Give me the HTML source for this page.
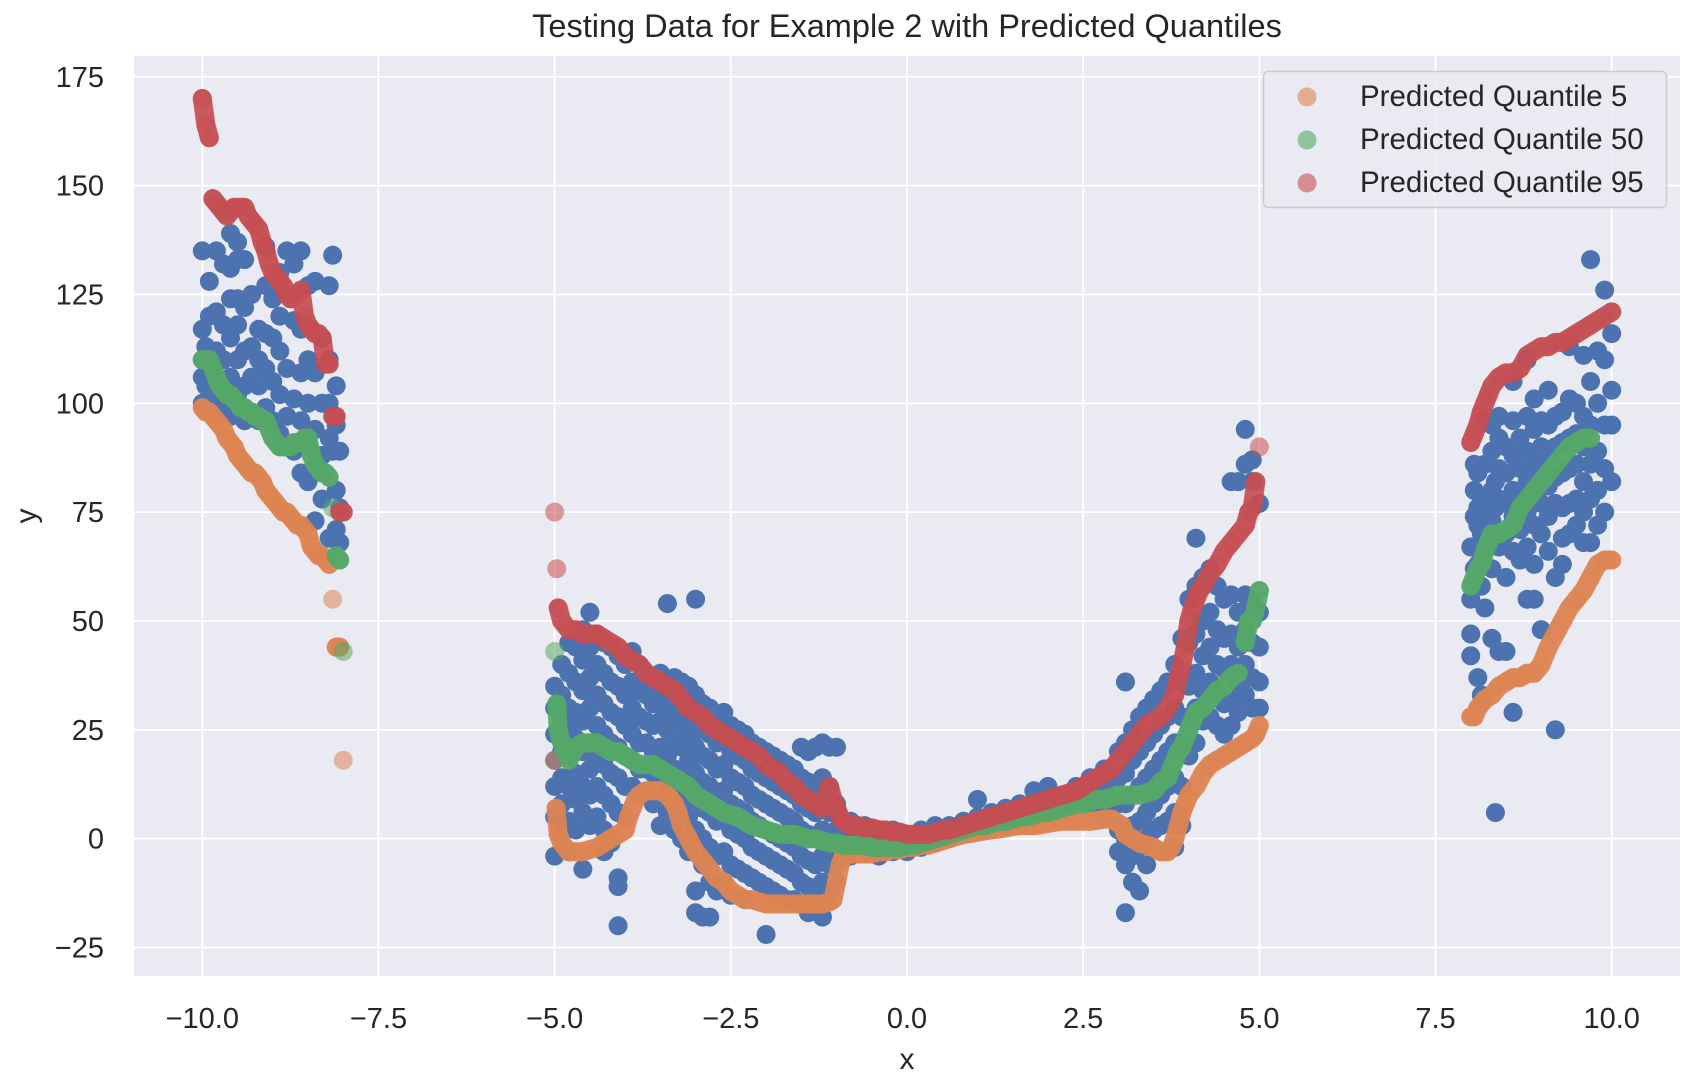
<!DOCTYPE html>
<html><head><meta charset="utf-8"><style>
html,body{margin:0;padding:0;background:#fff;}
svg{display:block;font-family:"Liberation Sans",Arial,sans-serif;}
</style></head><body>
<svg id="chart" width="1696" height="1084" viewBox="0 0 1696 1084">
<rect x="134" y="56" width="1546" height="920" fill="#eaeaf2"/>
<g id="grid"></g>
<g id="ticks"></g>
<g id="marks"></g>
<text x="907" y="37" text-anchor="middle" font-size="32.5" fill="#262626">Testing Data for Example 2 with Predicted Quantiles</text>
<text x="907" y="1069" text-anchor="middle" font-size="30" fill="#262626">x</text>
<text x="36" y="516" text-anchor="middle" font-size="30" fill="#262626" transform="rotate(-90 36 516)">y</text>
<g>
<rect x="1263.5" y="71.5" width="403" height="136" rx="5" fill="#eaeaf2" fill-opacity="0.85" stroke="#cccccc" stroke-width="1.5"/>
<circle cx="1307" cy="97" r="9.5" fill="#dd8452" fill-opacity="0.6"/>
<text x="1360" y="106" font-size="29.5" fill="#262626">Predicted Quantile 5</text>
<circle cx="1307" cy="140" r="9.5" fill="#55a868" fill-opacity="0.6"/>
<text x="1360" y="149" font-size="29.5" fill="#262626">Predicted Quantile 50</text>
<circle cx="1307" cy="183" r="9.5" fill="#c44e52" fill-opacity="0.6"/>
<text x="1360" y="192" font-size="29.5" fill="#262626">Predicted Quantile 95</text>
</g>
</svg>
<script>
const xTicks = [-10, -7.5, -5, -2.5, 0, 2.5, 5, 7.5, 10];
const xTickLabels = ["\u221210.0","\u22127.5","\u22125.0","\u22122.5","0.0","2.5","5.0","7.5","10.0"];
const yTicks = [-25, 0, 25, 50, 75, 100, 125, 150, 175];
const yTickLabels = ["\u221225","0","25","50","75","100","125","150","175"];

// test data: each row = [x, y values observed at that x...]
const blueCols = [
[-10,135,117,110,106,100],[-9.95,113,104],[-9.9,128,120,108,101],[-9.8,135,121,112,105,98],[-9.7,132,118,110,101],
[-9.6,139,131,124,115,106,97],[-9.5,137,133,124,118,110,102],[-9.4,133,122,112,104,96],[-9.3,125,113,106,98],[-9.2,117,110,104,96],
[-9.1,136,127,116,108,99],[-9.0,124,115,105,96],[-8.9,130,120,112,102,93],[-8.8,135,125,108,97,90],[-8.7,132,119,101,89],
[-8.6,135,117,107,96,84],[-8.5,127,110,100,90,82],[-8.4,128,107,94,85,73],[-8.3,115,100,88,78],[-8.2,127,110,100,92,69],
[-8.15,134,89],[-8.1,104,95,80,71],[-8.05,89,76,68],
[-5.0,35,30,24,18,12,5,-4],[-4.9,40,33,27,20,14,8,1],[-4.8,45,38,30,25,19,12,4,-3],[-4.7,44,36,29,23,15,9,2],
[-4.6,48,41,34,27,20,12,6,-7],[-4.5,52,44,37,30,22,16,10,3],[-4.4,47,40,33,26,19,12,5],[-4.3,45,38,31,24,17,10,2,-3],
[-4.2,44,36,29,22,15,8,-1],[-4.1,42,35,28,21,14,6,-9,-11,-20],[-4.0,40,33,26,19,12,5],[-3.9,43,36,30,24,18,12],
[-3.8,40,34,28,22,16,10],[-3.7,38,33,27,22,16,10],[-3.6,36,31,26,20,15,8],[-3.5,38,32,27,21,16,9,3],
[-3.4,54,36,30,25,19,13,6],[-3.3,37,32,27,22,16,10,2],[-3.2,36,31,26,21,15,8,0],[-3.1,35,29,24,18,12,5,-3],
[-3.0,55,33,27,21,15,9,2,-12,-17],[-2.9,31,25,19,13,7,0,-6,-18],[-2.8,30,24,18,12,6,-2,-10,-18],[-2.7,28,22,16,10,4,-4,-12],
[-2.6,29,23,17,11,5,-3,-10],[-2.5,26,20,14,8,2,-6,-13],[-2.4,25,19,13,7,1,-7],[-2.3,24,18,12,6,0,-8,-14],
[-2.2,22,16,10,4,-2,-9],[-2.1,21,15,9,3,-3,-10],[-2.0,20,14,8,2,-4,-11,-22],[-1.9,19,13,7,1,-5,-12],
[-1.8,18,12,6,0,-6,-13],[-1.7,17,11,5,-1,-7,-14],[-1.6,16,10,4,-2,-8,-14],[-1.5,21,14,8,2,-4,-10,-15],
[-1.4,20,13,7,1,-5,-11,-17],[-1.3,21,12,6,0,-6,-12],[-1.2,22,14,8,2,-4,-10,-18],[-1.1,21,12,6,0,-6,-13],[-1.0,21,8,2,-5,-10],
[-0.8,4,1,-2,-4],[-0.6,3,0,-3],[-0.4,2,-1,-4],[-0.2,2,-1,-3],[0.0,1,-2,-3],[0.2,2,0,-2],[0.4,3,1,-1],[0.6,3,1,0],
[0.8,4,2,1],[1.0,5,3,2,9],[1.2,6,4,3],[1.4,7,5,3],[1.6,8,6,4],[1.8,11,7,5],[2.0,12,8,6],[2.2,10,8,6],[2.4,12,9,7],
[2.6,14,10,7],[2.8,16,12,8,5],[3.0,20,14,8,2,-3],[3.1,36,22,15,8,0,-6,-17],[3.2,25,18,10,3,-4,-10],[3.3,28,20,12,4,-2,-12],
[3.4,30,22,14,6,0,-6],[3.5,32,24,16,8,2],[3.6,34,26,18,10,3],[3.7,36,28,20,12,4],[3.8,40,30,22,14,6,-2],[3.9,46,36,28,20,12,3],
[4.0,55,45,35,27,19],[4.1,69,58,47,38,30,22],[4.2,60,50,42,34,27],[4.3,62,52,44,36,28],[4.4,58,48,40,33,26],[4.5,55,46,39,31,24],
[4.6,82,56,47,40,32,26],[4.7,82,52,44,36,29],[4.8,94,86,56,48,40,33],[4.9,87,82,54,45,37,30],[5.0,77,52,44,36,30],
[8.0,67,55,47,42],[8.05,86,80,74,62],[8.1,84,76,72,63,37],[8.15,78,70,65,58,33],[8.2,96,86,74,68,53],[8.3,95,89,80,73,62,46],
[8.35,82,76,70,6],[8.4,97,92,85,78,67,43],[8.5,90,84,77,70,60,43],[8.6,105,96,88,80,74,66,29],[8.7,92,85,78,71,64],
[8.8,110,97,89,82,75,67,55],[8.9,101,94,86,79,72,63,55],[9.0,96,90,84,77,70,48],[9.1,103,95,88,81,74,66],[9.2,97,90,83,77,60,25],
[9.3,98,91,84,76,69,63],[9.4,113,101,92,85,77,70],[9.5,100,93,86,78,72],[9.6,111,97,90,82,75,68],[9.7,133,105,95,86,78,68],
[9.8,112,100,89,80,72],[9.9,126,110,95,85,75],[10.0,116,103,95,82]
];

const q95X = [-10,-9.95,-9.9,-9.85,-9.8,-9.75,-9.7,-9.65,-9.6,-9.55,-9.5,-9.45,-9.4,-9.35,-9.3,-9.25,-9.2,-9.15,-9.1,-9.05,-9.0,-8.95,-8.9,-8.85,-8.8,-8.75,-8.7,-8.65,-8.6,-8.55,-8.5,-8.45,-8.4,-8.35,-8.3,-8.25,-8.2,-8.15,-8.1,-8.05,-8.0,
-5,-4.97,-4.95,-4.9,-4.8,-4.7,-4.6,-4.5,-4.4,-4.3,-4.2,-4.1,-4.0,-3.9,-3.8,-3.7,-3.6,-3.5,-3.4,-3.3,-3.2,-3.1,-3.0,-2.9,-2.8,-2.7,-2.6,-2.5,-2.4,-2.3,-2.2,-2.1,-2.0,-1.9,-1.8,-1.7,-1.6,-1.5,-1.4,-1.3,-1.2,-1.1,-1.05,-1.0,-0.95,-0.9,-0.8,-0.7,-0.6,-0.5,-0.4,-0.3,-0.2,-0.1,0,0.1,0.2,0.3,0.4,0.5,0.6,0.7,0.8,0.9,1.0,1.1,1.2,1.3,1.4,1.5,1.6,1.7,1.8,1.9,2.0,2.1,2.2,2.3,2.4,2.5,2.6,2.7,2.8,2.9,3.0,3.1,3.2,3.3,3.4,3.5,3.6,3.7,3.8,3.85,3.9,3.95,4.0,4.05,4.1,4.15,4.2,4.3,4.4,4.5,4.6,4.7,4.8,4.85,4.9,4.95,5.0,
8.0,8.05,8.1,8.15,8.2,8.25,8.3,8.4,8.5,8.6,8.7,8.8,8.9,9.0,9.1,9.2,9.3,9.4,9.5,9.6,9.7,9.8,9.9,10.0];
const q95Y = [170,164,161,147,146,145,144,143,144,145,145,145,145,143,142,141,140,137,135,132,130,129,128,127,125,124,124,125,126,120,118,117,116,116,115,109,109,97,97,75,75,
75,62,53,50,48,48,47,47,47,46,45,44,42,41,40,38,37,36,35,34,32,30,29,28,26,25,24,23,22,21,20,19,17,16,15,13,12,10,9,8,7,12,9,7,5,4,3,3,2.5,2.5,2,2,1.5,1.5,1,1,1,1,1.5,2,2,2.5,3,3.5,4,4.5,5,5.5,6,6.5,7,7.5,8,8.5,9,9.5,10,10.5,11,12,13,14,15,16,18,20,22,24,26,27,28,30,33,37,40,44,50,53,55,57,58,61,63,66,68,70,72,75,76,82,90,
91,93,95,98,100,102,104,106,107,107,108,111,112,113,113,114,114,115,116,117,118,119,120,121];

const q50X = [-10,-9.95,-9.9,-9.85,-9.8,-9.75,-9.7,-9.65,-9.6,-9.55,-9.5,-9.45,-9.4,-9.35,-9.3,-9.25,-9.2,-9.15,-9.1,-9.05,-9.0,-8.95,-8.9,-8.85,-8.8,-8.75,-8.7,-8.65,-8.6,-8.55,-8.5,-8.45,-8.4,-8.35,-8.3,-8.25,-8.2,-8.15,-8.1,-8.05,-8.0,
-5,-4.97,-4.95,-4.9,-4.85,-4.8,-4.7,-4.6,-4.5,-4.4,-4.3,-4.2,-4.1,-4.0,-3.9,-3.8,-3.7,-3.6,-3.5,-3.4,-3.3,-3.2,-3.1,-3.0,-2.9,-2.8,-2.7,-2.6,-2.5,-2.4,-2.3,-2.2,-2.1,-2.0,-1.9,-1.8,-1.7,-1.6,-1.5,-1.4,-1.3,-1.2,-1.1,-1.0,-0.9,-0.8,-0.7,-0.6,-0.5,-0.4,-0.3,-0.2,-0.1,0,0.1,0.2,0.3,0.4,0.5,0.6,0.7,0.8,0.9,1.0,1.1,1.2,1.3,1.4,1.5,1.6,1.7,1.8,1.9,2.0,2.1,2.2,2.3,2.4,2.5,2.6,2.7,2.8,2.9,3.0,3.1,3.2,3.3,3.4,3.5,3.6,3.7,3.75,3.8,3.85,3.9,3.95,4.0,4.05,4.1,4.2,4.3,4.4,4.5,4.6,4.7,4.8,4.85,4.9,4.95,5.0,
8.0,8.05,8.1,8.15,8.2,8.25,8.3,8.4,8.5,8.6,8.7,8.8,8.9,9.0,9.1,9.2,9.3,9.4,9.5,9.6,9.7,9.8,9.9,10.0];
const q50Y = [110,110,110,108,106,104,103,102,102,101,100,99,99,98,98,97,97,96,96,94,92,91,90,90,90,90,91,91,91,92,92,88,86,85,84,84,83,76,65,64,43,
43,31,25,22,20,18,21,22,22,22,21,20,20,19,18,17,17,17,16,15,14,13,12,10,9,8,7,6,5.5,5,4,3,2.5,2,1.5,1,1,1,0.5,0,0,-0.5,-1,-1,-1.5,-1.5,-1.5,-1.5,-2,-2,-2,-2,-2,-1.5,-1.5,-1,-0.5,0,0.5,1,1.5,2,2.5,3,3,3.5,4,4,4.5,5,5,5.5,6,6,6.5,7,7.5,8,8,8.5,9,9,9.5,10,10,10,10,10.5,11,13,14,16,18,20,21,23,25,27,29,30,32,34,35,37,38,45,50,
50,53,57,58,60,62,63,66,68,70,70,71,72,76,78,80,82,84,86,88,90,91,92,92];

const q5X = [-10,-9.95,-9.9,-9.85,-9.8,-9.75,-9.7,-9.65,-9.6,-9.55,-9.5,-9.45,-9.4,-9.35,-9.3,-9.25,-9.2,-9.15,-9.1,-9.05,-9.0,-8.95,-8.9,-8.85,-8.8,-8.75,-8.7,-8.65,-8.6,-8.55,-8.5,-8.45,-8.4,-8.35,-8.3,-8.25,-8.2,-8.15,-8.1,-8.05,-8.0,
-5,-4.98,-4.95,-4.9,-4.8,-4.7,-4.6,-4.5,-4.4,-4.3,-4.2,-4.1,-4.0,-3.95,-3.9,-3.85,-3.8,-3.7,-3.6,-3.5,-3.4,-3.35,-3.3,-3.25,-3.2,-3.1,-3.0,-2.9,-2.8,-2.7,-2.6,-2.5,-2.4,-2.3,-2.2,-2.1,-2.0,-1.9,-1.8,-1.7,-1.6,-1.5,-1.4,-1.3,-1.2,-1.1,-1.05,-1.0,-0.95,-0.9,-0.8,-0.7,-0.6,-0.5,-0.4,-0.3,-0.2,-0.1,0,0.1,0.2,0.3,0.4,0.5,0.6,0.7,0.8,0.9,1.0,1.1,1.2,1.3,1.4,1.5,1.6,1.7,1.8,1.9,2.0,2.1,2.2,2.3,2.4,2.5,2.6,2.7,2.8,2.9,3.0,3.05,3.1,3.2,3.3,3.4,3.5,3.6,3.65,3.7,3.75,3.8,3.85,3.9,3.95,4.0,4.1,4.2,4.3,4.4,4.5,4.6,4.7,4.8,4.9,4.95,5.0,
8.0,8.05,8.1,8.15,8.2,8.3,8.4,8.5,8.6,8.7,8.8,8.9,9.0,9.1,9.2,9.3,9.4,9.5,9.6,9.7,9.8,9.9,10.0];
const q5Y = [99,98,98,97,96,95,94,92,91,90,88,87,86,85,84,84,83,82,80,79,78,77,76,75,75,74,73,72,72,71,70,67,66,65,65,64,63,55,44,44,18,
18,7,1,-1,-3,-3,-3,-2.5,-2,-1,0,1,2,5,7,9,10,11,11,11,10,9,8,6,3,0,-3,-5,-7,-9,-10,-12,-13,-14,-14,-14.5,-15,-15,-15,-15,-15,-15,-15,-15,-15,-14.5,-14,-10,-6,-4,-3.5,-3.5,-3.5,-3.5,-3,-3,-2.5,-2.5,-2,-2,-1.5,-1.5,-1,-0.5,0,0.5,1,1.2,1.5,1.8,2,2.2,2.5,2.8,3,3,3,3.2,3.5,3.8,4,4,4,4,4,4.2,4.5,4.5,3.5,3,1,0,-1,-1.5,-2,-3,-3,-3,-2,0,3,6,8,10,12,15,17,18,19,20,21,22,23,24,26,28,
28,30,31,32,33,35,36,37,37,38,38,40,44,47,50,53,55,57,60,63,64,64,65];

const XMIN = -10, XPX0 = 202.3, XS = 70.47, Y0 = 838.7, YS = 4.354;
function sx(v){ return XPX0 + (v - XMIN) * XS; }
function sy(v){ return Y0 - v * YS; }
const NS = "http://www.w3.org/2000/svg";
const grid = document.getElementById('grid');
const ticks = document.getElementById('ticks');
const marks = document.getElementById('marks');

xTicks.forEach((t, i) => {
  const l = document.createElementNS(NS, 'line');
  l.setAttribute('x1', sx(t)); l.setAttribute('x2', sx(t));
  l.setAttribute('y1', 56); l.setAttribute('y2', 976);
  l.setAttribute('stroke', '#fff'); l.setAttribute('stroke-width', '1.8');
  
  
  grid.appendChild(l);
  const tx = document.createElementNS(NS, 'text');
  tx.setAttribute('x', sx(t)); tx.setAttribute('y', 1028);
  tx.setAttribute('text-anchor', 'middle'); tx.setAttribute('font-size', '29'); tx.setAttribute('fill', '#262626');
  tx.textContent = xTickLabels[i];
  
  
  ticks.appendChild(tx);
});
yTicks.forEach((t, i) => {
  const l = document.createElementNS(NS, 'line');
  l.setAttribute('x1', 134); l.setAttribute('x2', 1680);
  l.setAttribute('y1', sy(t)); l.setAttribute('y2', sy(t));
  l.setAttribute('stroke', '#fff'); l.setAttribute('stroke-width', '1.8');
  
  
  grid.appendChild(l);
  const tx = document.createElementNS(NS, 'text');
  tx.setAttribute('x', 104); tx.setAttribute('y', sy(t) + 10);
  tx.setAttribute('text-anchor', 'end'); tx.setAttribute('font-size', '29'); tx.setAttribute('fill', '#262626');
  tx.textContent = yTickLabels[i];
  
  
  ticks.appendChild(tx);
});

const R = 9.5;
function drawBlue(cols) {
  const g = document.createElementNS(NS, 'g');
  
  
  cols.forEach(row => {
    for (let j = 1; j < row.length; j++) {
      const c = document.createElementNS(NS, 'circle');
      c.setAttribute('cx', sx(row[0])); c.setAttribute('cy', sy(row[j])); c.setAttribute('r', R);
      c.setAttribute('fill', '#4c72b0');
      
      
      g.appendChild(c);
    }
  });
  marks.appendChild(g);
}
function drawQuantile(xs, ys, color, name) {
  const g = document.createElementNS(NS, 'g');
  
  
  const n = Math.min(xs.length, ys.length);
  let d = '';
  for (let i = 0; i < n; i++) {
    const px = sx(xs[i]), py = sy(ys[i]);
    if (i > 0) {
      const dx = px - sx(xs[i-1]), dy = py - sy(ys[i-1]);
      if (Math.hypot(dx, dy) < 30) d += ' L' + px + ' ' + py;
      else d += ' M' + px + ' ' + py;
    } else d = 'M' + px + ' ' + py;
  }
  const p = document.createElementNS(NS, 'path');
  p.setAttribute('d', d); p.setAttribute('fill', 'none'); p.setAttribute('stroke', color);
  p.setAttribute('stroke-width', 2 * R); p.setAttribute('stroke-linecap', 'round'); p.setAttribute('stroke-linejoin', 'round');
  p.setAttribute('stroke-opacity', '0.92');
  
  
  g.appendChild(p);
  for (let i = 0; i < n; i++) {
    const c = document.createElementNS(NS, 'circle');
    c.setAttribute('cx', sx(xs[i])); c.setAttribute('cy', sy(ys[i])); c.setAttribute('r', R);
    c.setAttribute('fill', color); c.setAttribute('fill-opacity', '0.55');
    
    
    g.appendChild(c);
  }
  marks.appendChild(g);
}
drawBlue(blueCols);
drawQuantile(q5X, q5Y, '#dd8452', 'quantile-5');
drawQuantile(q50X, q50Y, '#55a868', 'quantile-50');
drawQuantile(q95X, q95Y, '#c44e52', 'quantile-95');
</script>
</body></html>
